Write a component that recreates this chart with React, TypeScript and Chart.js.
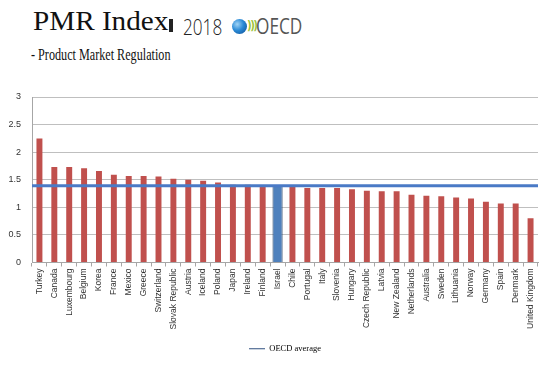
import React, { useEffect, useRef } from "react";
import { Chart, registerables } from "chart.js";

Chart.register(...registerables);

const categories = [
  "Turkey", "Canada", "Luxembourg", "Belgium", "Korea", "France", "Mexico", "Greece",
  "Switzerland", "Slovak Republic", "Austria", "Iceland", "Poland", "Japan", "Ireland",
  "Finland", "Israel", "Chile", "Portugal", "Italy", "Slovenia", "Hungary",
  "Czech Republic", "Latvia", "New Zealand", "Netherlands", "Australia", "Sweden",
  "Lithuania", "Norway", "Germany", "Spain", "Denmark", "United Kingdom",
];

const pmrValues = [
  2.25, 1.73, 1.73, 1.71, 1.66, 1.59, 1.57, 1.57,
  1.56, 1.52, 1.5, 1.48, 1.45, 1.41, 1.41,
  1.4, 1.4, 1.38, 1.35, 1.35, 1.35, 1.33,
  1.3, 1.29, 1.29, 1.23, 1.21, 1.2,
  1.18, 1.16, 1.1, 1.07, 1.07, 0.8,
];

const highlightCountry = "Israel";
const oecdAverage = 1.39;
const yTicks = [0, 0.5, 1, 1.5, 2, 2.5, 3];

const AXIS_FONT = "'Liberation Sans', Arial, sans-serif";

export default function App() {
  const canvasRef = useRef<HTMLCanvasElement | null>(null);

  useEffect(() => {
    if (!canvasRef.current) return;
    const redData = pmrValues.map((v, i) => (categories[i] === highlightCountry ? null : v));
    const blueData = pmrValues.map((v, i) => (categories[i] === highlightCountry ? v : null));
    const chart = new Chart(canvasRef.current, {
      type: "bar",
      data: {
        labels: categories,
        datasets: [
          {
            type: "bar",
            label: "PMR",
            data: redData,
            backgroundColor: "#C0504D",
            borderWidth: 0,
            grouped: false,
            categoryPercentage: 1,
            barPercentage: 0.4,
            order: 2,
          } as any,
          {
            type: "bar",
            label: highlightCountry,
            data: blueData,
            backgroundColor: "#4F81BD",
            borderColor: "#1F3A60",
            borderWidth: 1,
            grouped: false,
            categoryPercentage: 1,
            barPercentage: 0.68,
            order: 2,
          } as any,
          {
            type: "line",
            label: "OECD average",
            data: [
              { x: 0, y: oecdAverage },
              { x: 1, y: oecdAverage },
            ],
            xAxisID: "x2",
            borderColor: "#4A7AC6",
            borderWidth: 3,
            pointRadius: 0,
            pointStyle: "line",
            order: 1,
          } as any,
        ],
      },
      options: {
        animation: false,
        responsive: false,
        maintainAspectRatio: false,
        layout: { padding: { top: 12, right: 16, bottom: 13, left: 0 } },
        plugins: {
          tooltip: { enabled: false },
          legend: {
            position: "bottom",
            fullSize: false,
            labels: {
              filter: (item: any) => item.datasetIndex === 2,
              usePointStyle: true,
              pointStyleWidth: 16,
              boxHeight: 8,
              color: "#000",
              padding: 10,
              font: { family: "'Liberation Serif', 'Times New Roman', serif", size: 8.5 },
              generateLabels: (ch: any) => {
                const items = Chart.defaults.plugins.legend.labels.generateLabels(ch);
                return items.map((it: any) => ({ ...it, lineWidth: 1.2, strokeStyle: "#2F4F7F" }));
              },
            },
          },
        },
        scales: {
          x: {
            type: "category",
            offset: true,
            grid: { drawOnChartArea: false, drawTicks: true, tickLength: 4, color: "#A6A6A6", offset: true },
            border: { color: "#A6A6A6" },
            ticks: {
              autoSkip: false,
              minRotation: 90,
              maxRotation: 90,
              padding: 2,
              color: "#333",
              font: { family: AXIS_FONT, size: 8.5 },
            },
            afterFit: (scale: any) => {
              scale.height = 72;
            },
          },
          x2: {
            type: "linear",
            min: 0,
            max: 1,
            offset: false,
            display: false,
            grid: { offset: false },
          },
          y: {
            min: 0,
            max: 3,
            afterBuildTicks: (scale: any) => {
              scale.ticks = yTicks.map((v) => ({ value: v }));
            },
            grid: { color: "#BFBFBF", drawTicks: true, tickLength: 8, tickColor: "rgba(0,0,0,0)" },
            border: { color: "#A6A6A6" },
            ticks: {
              padding: 3,
              color: "#333",
              font: { family: AXIS_FONT, size: 9 },
              callback: (v: any) => String(v),
            },
            afterFit: (scale: any) => {
              scale.width = 32;
            },
          },
        },
      } as any,
    });
    return () => chart.destroy();
  }, []);

  return (
    <div
      style={{
        position: "fixed",
        left: 0,
        top: 0,
        width: 554,
        height: 376,
        background: "#fff",
        overflow: "hidden",
      }}
    >
      <div
        style={{
          position: "absolute",
          left: 33,
          top: 8,
          fontFamily: "'Liberation Serif', 'Times New Roman', serif",
          fontSize: 27,
          lineHeight: "27px",
          color: "#111",
          transform: "scaleX(1.08)",
          transformOrigin: "left top",
          whiteSpace: "nowrap",
        }}
      >
        PMR Index
      </div>
      <div
        style={{
          position: "absolute",
          left: 169,
          top: 19,
          width: 4,
          height: 13,
          background: "#222",
        }}
      />
      <div
        style={{
          position: "absolute",
          left: 183,
          top: 12,
          fontFamily: "'Open Sans', sans-serif",
          fontWeight: 300,
          fontSize: 22,
          lineHeight: "28px",
          color: "#222",
          transform: "scaleX(0.78)",
          transformOrigin: "left top",
          whiteSpace: "nowrap",
        }}
      >
        2018
      </div>
      <div
        style={{
          position: "absolute",
          left: 232,
          top: 19,
          width: 15,
          height: 15,
          borderRadius: "50%",
          background: "radial-gradient(circle at 35% 35%, #9fd3f5 0%, #2a8ad6 45%, #0b4a8f 100%)",
        }}
      />
      <div
        style={{
          position: "absolute",
          left: 247,
          top: 15,
          fontFamily: "'DejaVu Sans', sans-serif",
          fontWeight: 700,
          fontSize: 13,
          lineHeight: "22px",
          color: "#9CC43C",
          letterSpacing: -2,
          transform: "scaleX(0.8)",
          transformOrigin: "left top",
        }}
      >
        )))
      </div>
      <div
        style={{
          position: "absolute",
          left: 256,
          top: 13,
          fontFamily: "'Open Sans', sans-serif",
          fontSize: 21,
          lineHeight: "26px",
          color: "#555",
          transform: "scaleX(0.82)",
          transformOrigin: "left top",
          whiteSpace: "nowrap",
        }}
      >
        OECD
      </div>
      <div
        style={{
          position: "absolute",
          left: 31,
          top: 46,
          fontFamily: "'Liberation Serif', 'Times New Roman', serif",
          fontSize: 16,
          lineHeight: "18px",
          color: "#111",
          transform: "scaleX(0.76)",
          transformOrigin: "left top",
          whiteSpace: "nowrap",
        }}
      >
        - Product Market Regulation
      </div>
      <canvas
        ref={canvasRef}
        width={554}
        height={291}
        style={{ position: "absolute", left: 0, top: 85, width: 554, height: 291 }}
      />
    </div>
  );
}
